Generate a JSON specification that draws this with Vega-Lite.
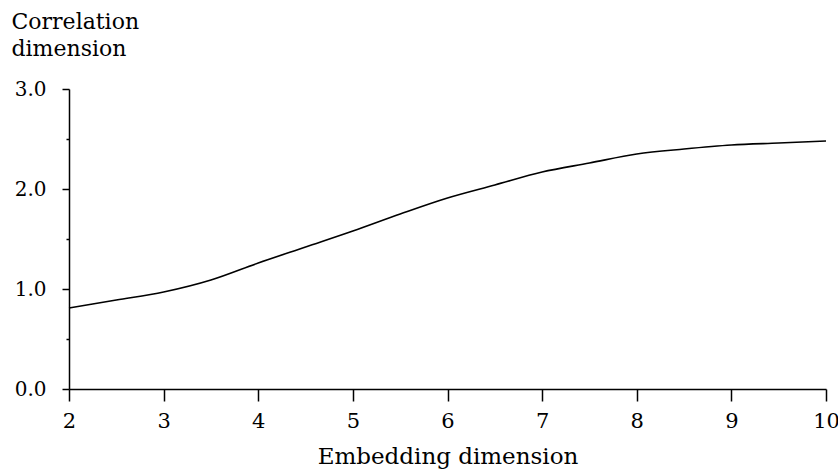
{
  "$schema": "https://vega.github.io/schema/vega-lite/v6.json",
  "width": 757,
  "height": 300,
  "autosize": {"type": "none"},
  "padding": {"left": 69, "top": 89, "right": 12, "bottom": 84},
  "background": "white",
  "config": {
    "view": {"stroke": null},
    "axis": {"grid": false, "domainColor": "black", "tickColor": "black", "labelColor": "black", "titleColor": "black", "labelFont": "DejaVu Serif", "titleFont": "DejaVu Serif", "labelFontWeight": "normal", "titleFontWeight": "normal", "domainWidth": 1.5, "tickWidth": 1.5}
  },
  "data": {"values": [
    {"x": 2, "y": 0.81},
    {"x": 2.5, "y": 0.89},
    {"x": 3, "y": 0.97},
    {"x": 3.5, "y": 1.09},
    {"x": 4, "y": 1.26},
    {"x": 4.5, "y": 1.42},
    {"x": 5, "y": 1.58},
    {"x": 5.5, "y": 1.75},
    {"x": 6, "y": 1.91},
    {"x": 6.5, "y": 2.04},
    {"x": 7, "y": 2.17},
    {"x": 7.5, "y": 2.26},
    {"x": 8, "y": 2.35},
    {"x": 8.5, "y": 2.40},
    {"x": 9, "y": 2.44},
    {"x": 9.5, "y": 2.46},
    {"x": 10, "y": 2.48}
  ]},
  "mark": {"type": "line", "color": "black", "strokeWidth": 1.6, "interpolate": "monotone"},
  "encoding": {
    "x": {"field": "x", "type": "quantitative", "scale": {"domain": [2, 10], "nice": false},
      "axis": {"values": [2,3,4,5,6,7,8,9,10], "format": "d", "tickSize": 12, "labelFontSize": 21, "labelPadding": 9, "labelFlush": false,
        "title": "Embedding dimension", "titleFontSize": 23, "titleBaseline": "top", "titleY": 56}},
    "y": {"field": "y", "type": "quantitative", "scale": {"domain": [0, 3], "nice": false},
      "axis": {"values": [0,0.5,1,1.5,2,2.5,3],
        "labelExpr": "datum.value % 1 === 0 ? format(datum.value, '.1f') : ''",
        "tickSize": {"condition": {"test": "datum.value % 1 !== 0", "value": 3}, "value": 7},
        "labelFontSize": 20, "labelPadding": 16,
        "title": ["Correlation", "dimension"], "titleFontSize": 22, "titleAngle": 0, "titleAlign": "left", "titleBaseline": "top", "titleX": -58, "titleY": -78, "titleLineHeight": 27}}
  }
}
